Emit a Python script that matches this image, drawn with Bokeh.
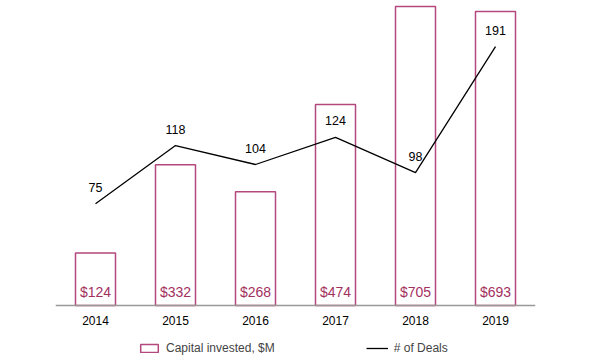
from bokeh.plotting import figure
from bokeh.models import ColumnDataSource, Range1d, Legend, LegendItem, Span
from bokeh.core.properties import value
from bokeh.embed import file_html
from bokeh.resources import INLINE

years = ["2014", "2015", "2016", "2017", "2018", "2019"]
capital = [124, 332, 268, 474, 705, 693]
deals = [75, 118, 104, 124, 98, 191]
capital_labels = ["$" + str(c) for c in capital]
deal_labels = [str(d) for d in deals]

BAR = "#b3487c"
TXT = "#a3305f"
FONT = "Liberation Sans"

src = ColumnDataSource(dict(year=years, capital=capital, deals=deals,
                            clab=capital_labels, dlab=deal_labels,
                            zero=[0] * len(years)))

p = figure(width=600, height=360, x_range=years, y_range=Range1d(-129.7, 719),
           output_backend="svg", toolbar_location=None,
           min_border_left=55, min_border_right=65, min_border_top=0,
           min_border_bottom=0)
p.extra_y_ranges = {"deals": Range1d(-40.6, 225)}
p.outline_line_color = None
p.grid.visible = False
p.yaxis.visible = False
p.xaxis.visible = False
p.background_fill_color = "white"

# baseline (category axis line)
p.add_layout(Span(location=0, dimension="width", line_color="#999999",
                  line_width=1.3))

bars = p.vbar(x="year", top="capital", width=0.5, source=src,
              fill_color="white", line_color=BAR, line_width=1.5)
p.text(x="year", y="zero", text="clab", source=src, text_align="center",
       text_baseline="middle", y_offset=-13, text_color=TXT,
       text_font=value(FONT), text_font_size="14px")

# category tick labels
p.text(x="year", y="zero", text="year", source=src, text_align="center",
       text_baseline="middle", y_offset=15, text_color="black",
       text_font=value(FONT), text_font_size="12px")

ln = p.line(x="year", y="deals", source=src, y_range_name="deals",
            line_color="black", line_width=1.3)
p.text(x="year", y="deals", text="dlab", source=src, y_range_name="deals",
       text_align="center", text_baseline="bottom", y_offset=-12,
       text_color="black", text_font=value(FONT), text_font_size="12.5px")

legend = Legend(items=[LegendItem(label="Capital invested, $M", renderers=[bars]),
                       LegendItem(label="# of Deals", renderers=[ln])],
                orientation="horizontal", location=(83, 5),
                spacing=91, glyph_width=22, glyph_height=10, label_standoff=6,
                label_text_font=FONT, label_text_font_size="12px",
                border_line_color=None, background_fill_alpha=0,
                padding=2, margin=0)
p.add_layout(legend, "center")

open("out.html", "w").write(file_html(p, INLINE))
